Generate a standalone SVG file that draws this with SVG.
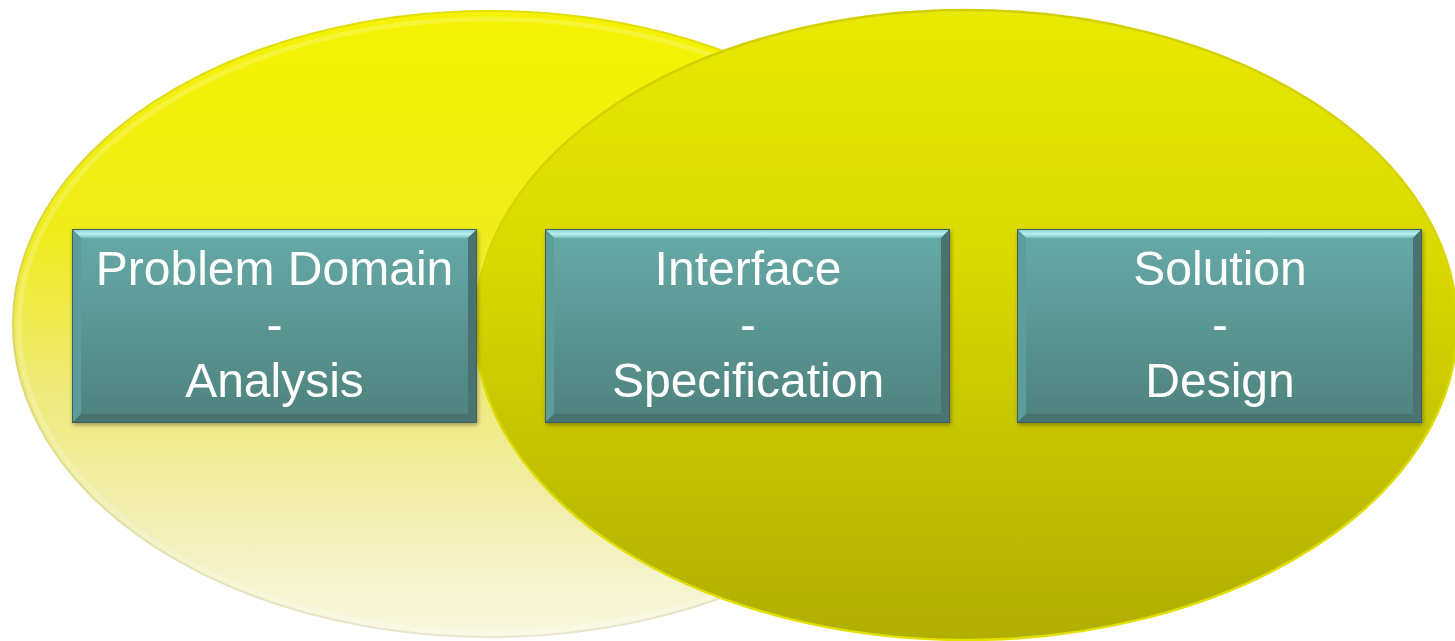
<svg xmlns="http://www.w3.org/2000/svg" width="1455" height="641" viewBox="0 0 1455 641">
  <defs>
    <linearGradient id="gLeft" x1="0" y1="0" x2="0" y2="1">
      <stop offset="0" stop-color="#f5f300"/>
      <stop offset="0.35" stop-color="#f0ec1a"/>
      <stop offset="0.6" stop-color="#eeea78"/>
      <stop offset="0.8" stop-color="#f1eeb0"/>
      <stop offset="1" stop-color="#f9f8e2"/>
    </linearGradient>
    <linearGradient id="gLeftRim" x1="0" y1="0" x2="0" y2="1">
      <stop offset="0" stop-color="#e2de00"/>
      <stop offset="0.5" stop-color="#d8d460"/>
      <stop offset="1" stop-color="#e8e6d0"/>
    </linearGradient>
    <linearGradient id="gRight" x1="0" y1="0" x2="0" y2="1">
      <stop offset="0" stop-color="#e8e800"/>
      <stop offset="0.4" stop-color="#dad800"/>
      <stop offset="0.7" stop-color="#c4c200"/>
      <stop offset="1" stop-color="#b0ae00"/>
    </linearGradient>
    <linearGradient id="gRightRim" x1="0" y1="0" x2="0" y2="1">
      <stop offset="0" stop-color="#d2ce00"/>
      <stop offset="1" stop-color="#e2e000"/>
    </linearGradient>
    <linearGradient id="gBox" x1="0" y1="0" x2="0" y2="1">
      <stop offset="0" stop-color="#66aaa8"/>
      <stop offset="1" stop-color="#4e827e"/>
    </linearGradient>
    <linearGradient id="gBevelTop" x1="0" y1="0" x2="0" y2="1">
      <stop offset="0" stop-color="#8ed2d2"/>
      <stop offset="0.5" stop-color="#b8f2f2"/>
      <stop offset="1" stop-color="#78bcbc"/>
    </linearGradient>
    <filter id="shadow" x="-5%" y="-5%" width="110%" height="115%">
      <feGaussianBlur in="SourceAlpha" stdDeviation="2"/>
      <feOffset dx="1" dy="2"/>
      <feComponentTransfer><feFuncA type="linear" slope="0.35"/></feComponentTransfer>
      <feMerge><feMergeNode/><feMergeNode in="SourceGraphic"/></feMerge>
    </filter>
    <!-- one bevelled box, drawn at the origin and placed with x/y on <use> -->
    <g id="box">
      <rect x="0" y="0" width="405" height="194" fill="#3f605d"/>
      <rect x="1" y="1" width="403" height="192" fill="url(#gBox)"/>
      <polygon points="1,1 404,1 396,9 9,9" fill="url(#gBevelTop)"/>
      <polygon points="1,1 9,9 9,185 1,193" fill="#5c9c9a"/>
      <polygon points="404,1 404,193 396,185 396,9" fill="#48726f"/>
      <polygon points="1,193 9,185 396,185 404,193" fill="#48716e"/>
    </g>
  </defs>
  <style>
    .label { font-family: "Liberation Sans", Arial, sans-serif; font-size: 48px; fill: #ffffff; text-anchor: middle; }
  </style>

  <rect width="1455" height="641" fill="#ffffff"/>

  <!-- background sets -->
  <g id="set-left">
    <ellipse cx="490" cy="324" rx="477" ry="313" fill="url(#gLeft)" stroke="url(#gLeftRim)" stroke-width="2"/>
    <ellipse cx="490" cy="326" rx="471" ry="307" fill="none" stroke="#ffffff" stroke-opacity="0.2" stroke-width="5"/>
  </g>
  <g id="set-right">
    <ellipse cx="966" cy="325" rx="491" ry="315" fill="url(#gRight)" stroke="url(#gRightRim)" stroke-width="2.5"/>
  </g>

  <g id="connectors"></g>

  <g id="node-problem" filter="url(#shadow)">
    <use href="#box" x="72" y="229"/>
    <text class="label" x="274.5" y="285">Problem Domain</text>
    <text class="label" x="274.5" y="341">-</text>
    <text class="label" x="274.5" y="397">Analysis</text>
  </g>
  <g id="node-interface" filter="url(#shadow)">
    <use href="#box" x="545" y="229"/>
    <text class="label" x="748" y="285">Interface</text>
    <text class="label" x="748" y="341">-</text>
    <text class="label" x="748" y="397">Specification</text>
  </g>
  <g id="node-solution" filter="url(#shadow)">
    <use href="#box" x="1017" y="229"/>
    <text class="label" x="1220" y="285">Solution</text>
    <text class="label" x="1220" y="341">-</text>
    <text class="label" x="1220" y="397">Design</text>
  </g>
</svg>
